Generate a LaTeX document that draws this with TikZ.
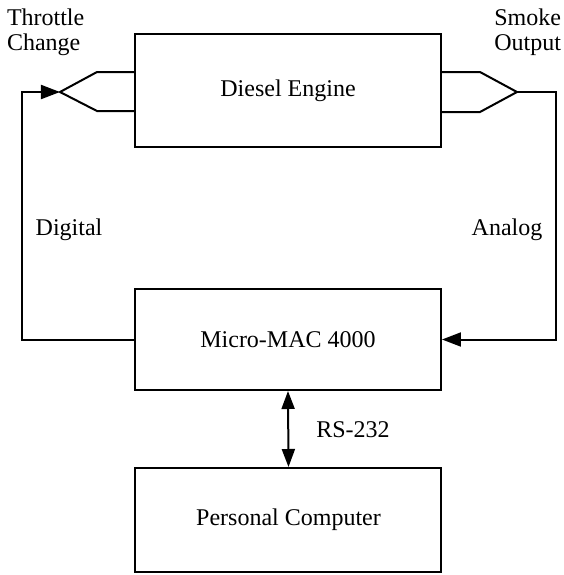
\documentclass[tikz,border=0pt]{standalone}
\usepackage{fontspec}
\setmainfont{Liberation Serif}
\usetikzlibrary{arrows.meta}
\begin{document}
\begin{tikzpicture}[x=0.5pt,y=-0.5pt,line width=1pt,
    every node/.style={font=\fontsize{12}{12.5}\selectfont},
    blk/.style={draw,minimum width=153pt,inner sep=0pt},
    sig/.style={-{Triangle[length=9.5pt,width=7pt]}},
    bisig/.style={{Triangle[length=9pt,width=6.5pt]}-{Triangle[length=9pt,width=6.5pt]}}]
    \useasboundingbox (0,0) rectangle (564,575);
    % blocks
    \node[blk,minimum height=56.5pt] (de) at (288,90.5) {Diesel Engine};
    \node[blk,minimum height=50.5pt] (mm) at (288,339.5) {Micro-MAC 4000};
    \node[blk,minimum height=52pt] (pc) at (288.5,520) {Personal Computer};
    % labels
    \node[anchor=west,align=left,inner sep=0pt] (thr) at (6,32) {Throttle\\Change};
    \node[anchor=east,align=right,inner sep=0pt] (smk) at (562,32) {Smoke\\Output};
    \node (dig) at (69,230) {Digital};
    \node (ana) at (507,230) {Analog};
    \node (rs) at (353,430) {RS-232};
    % forks
    \coordinate (tj) at (60,92);
    \coordinate (sj) at (517,92);
    \coordinate (lc) at (22,92);
    \coordinate (rc) at (556,92);
    \draw (de.west |- 0,72) -- (97,72) -- (tj) -- (97,111) -- (de.west |- 0,111);
    \draw (de.east |- 0,72) -- (480,72) -- (sj) -- (480,112) -- (de.east |- 0,112);
    % loop
    \draw[sig] (mm.west) -| (lc) -- (tj);
    \draw[sig] (sj) -- (rc) |- (mm.east);
    \draw[bisig] (mm.south) -- (pc.north);
\end{tikzpicture}
\end{document}
